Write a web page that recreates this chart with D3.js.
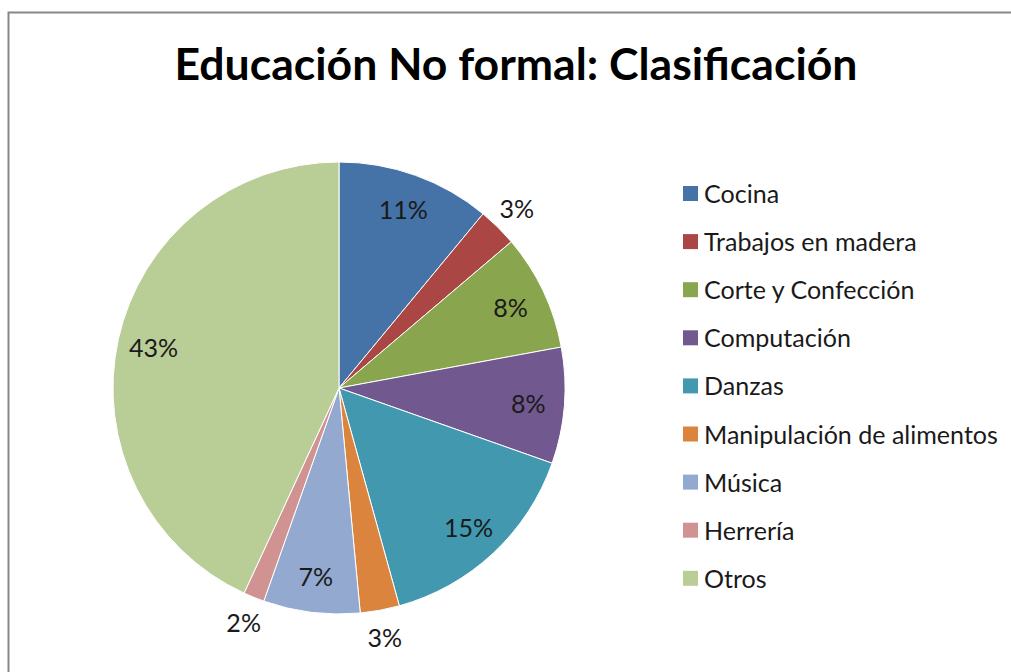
<!DOCTYPE html>
<meta charset="utf-8">
<script src="https://d3js.org/d3.v7.min.js"></script>
<head>
<style>
  html, body { margin: 0; background: #fff; overflow: hidden; }
  svg { display: block; }
  text { font-family: Lato, "Open Sans", sans-serif; }
</style>
</head>
<body>
<div id="my_dataviz"></div>

<script>
// data (percent of total)
var categories = ["Cocina", "Trabajos en madera", "Corte y Confección", "Computación",
                  "Danzas", "Manipulación de alimentos", "Música", "Herrería", "Otros"];
var values = [11, 2.8, 8.3, 8.3, 15.3, 2.8, 6.9, 1.5, 43.1];
var colors = ["#4572A7", "#AA4643", "#89A54E", "#71588F", "#4198AF",
              "#DB843D", "#93A9CF", "#D19392", "#B9CD96"];
var title = "Educación No formal: Clasificación";

var width = 1011, height = 672;
var cx = 339, cy = 388, radius = 226;

var svg = d3.select("#my_dataviz")
  .append("svg")
    .attr("width", width)
    .attr("height", height);

// chart frame (runs off the right and bottom)
svg.append("path")
  .attr("d", "M8.5," + height + "V12.5H" + width)
  .style("fill", "none")
  .style("stroke", "#878787")
  .style("stroke-width", 2);

// title, fitted to the width it has in the picture
var t = svg.append("text")
  .attr("x", 516)
  .attr("y", 80)
  .attr("text-anchor", "middle")
  .style("font-size", "44px")
  .style("font-weight", "bold")
  .style("fill", "#000")
  .text(title);
var tw = t.node().getComputedTextLength();
t.style("font-size", (44 * 683 / tw) + "px");

var data = categories.map(function(c, i) { return {name: c, value: values[i], color: colors[i]}; });
var total = d3.sum(values);

var pie = d3.pie()
  .sort(null)
  .value(function(d) { return d.value; });

var arc = d3.arc().innerRadius(0).outerRadius(radius);
var arcs = pie(data);

var g = svg.append("g")
  .attr("transform", "translate(" + cx + "," + cy + ")");

g.selectAll("path")
  .data(arcs)
  .enter()
  .append("path")
    .attr("d", arc)
    .style("fill", function(d) { return d.data.color; })
    .style("stroke", "#fff")
    .style("stroke-width", 1);

// labels: inside for big slices, just outside for small ones
g.selectAll("text.lab")
  .data(arcs)
  .enter()
  .append("text")
    .attr("class", "lab")
    .attr("transform", function(d) {
      var a = (d.startAngle + d.endAngle) / 2;
      var r = d.data.value < 5 ? radius + 27 : radius * 0.84;
      return "translate(" + (Math.sin(a) * r) + "," + (-Math.cos(a) * r) + ")";
    })
    .attr("text-anchor", "middle")
    .attr("dominant-baseline", "central")
    .style("font-size", "22px")
    .style("fill", "#1a1a1a")
    .text(function(d) { return Math.round(d.data.value / total * 100 + 1e-9) + "%"; });

// legend
var legend = svg.append("g")
  .attr("transform", "translate(683,186)");

var rows = legend.selectAll("g")
  .data(data)
  .enter()
  .append("g")
    .attr("transform", function(d, i) { return "translate(0," + (i * 48.1) + ")"; });

rows.append("rect")
  .attr("width", 15)
  .attr("height", 15)
  .style("fill", function(d) { return d.color; });

var legText = rows.append("text")
  .attr("x", 21)
  .attr("y", 7)
  .attr("dominant-baseline", "central")
  .style("font-size", "22px")
  .style("fill", "#1a1a1a")
  .text(function(d) { return d.name; });

// fit the longest entry to its width in the picture
var longest = d3.max(legText.nodes(), function(n) { return n.getComputedTextLength(); });
var legSize = 22 * 294 / longest;
legText.style("font-size", legSize + "px");
g.selectAll("text.lab").style("font-size", legSize + "px");
</script>
</body>
